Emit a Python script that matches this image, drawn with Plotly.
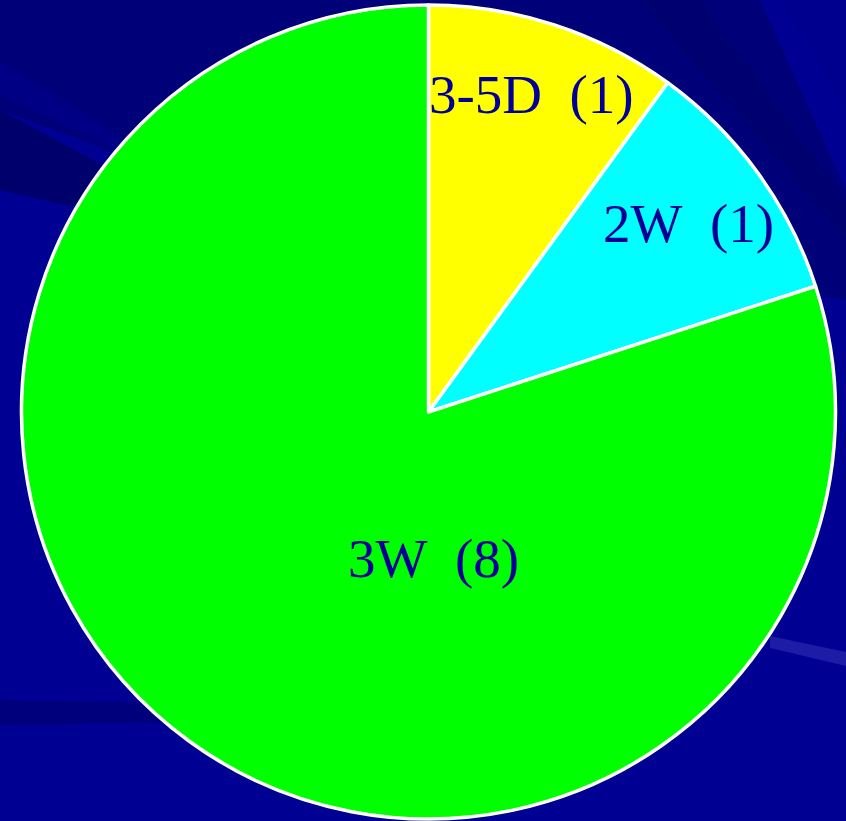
import math
import plotly.graph_objects as go

labels = ["3-5D", "2W", "3W"]
values = [1, 1, 8]
colors = ["#FFFF00", "#00FFFF", "#00FF00"]

W, H = 846, 821
CX, CY, R = 428.5, 412.0, 407.0  # pixel centre / radius of pie

# label placement (fraction of radius, optional angle override in degrees)
label_r = [0.82, 0.79, 0.36]
label_angle = [None, None, 178]

fig = go.Figure()
fig.add_trace(go.Pie(
    labels=labels, values=values, sort=False, direction="clockwise", rotation=0,
    marker=dict(colors=colors, line=dict(color="white", width=3.5)),
    textinfo="none", hoverinfo="label+value", showlegend=False,
    domain=dict(x=[(CX - R) / W, (CX + R) / W],
                y=[(H - CY - R) / H, (H - CY + R) / H]),
))

total = sum(values)
cum = 0
annots = []
for i, (lab, v) in enumerate(zip(labels, values)):
    mid = (cum + v / 2) / total * 360
    cum += v
    ang = label_angle[i] if label_angle[i] is not None else mid
    rr = label_r[i] * R
    px = CX + rr * math.sin(math.radians(ang))
    py = CY - rr * math.cos(math.radians(ang))
    annots.append(dict(
        x=px / W, y=1 - py / H, xref="paper", yref="paper",
        text=f"{lab}\u00a0\u00a0({v})", showarrow=False,
        font=dict(family="Liberation Serif, serif", size=55, color="#000099"),
        xanchor="center", yanchor="middle",
    ))

def poly(pts, color):
    d = "M " + " L ".join(f"{x / W:.4f},{1 - y / H:.4f}" for x, y in pts) + " Z"
    return dict(type="path", path=d, xref="paper", yref="paper",
                fillcolor=color, line=dict(width=0), layer="below")

shapes = [
    poly([(0, 0), (760, 0), (846, 190), (846, 300), (300, 220), (0, 110)], "#000078"),
    poly([(0, 110), (260, 250), (0, 190)], "#00006C"),
    poly([(0, 60), (220, 200), (0, 95)], "#000084"),
    poly([(640, 0), (700, 0), (846, 200), (846, 240)], "#000070"),
    poly([(780, 0), (846, 0), (846, 110)], "#00008E"),
    poly([(770, 636), (846, 652), (846, 666), (770, 648)], "#1C1CA6"),
    poly([(0, 700), (170, 703), (170, 722), (0, 725)], "#00007C"),
]

fig.update_layout(
    width=W, height=H,
    margin=dict(l=0, r=0, t=0, b=0),
    paper_bgcolor="#000092", plot_bgcolor="#000092",
    annotations=annots, shapes=shapes,
)

fig.write_html("out.html")
